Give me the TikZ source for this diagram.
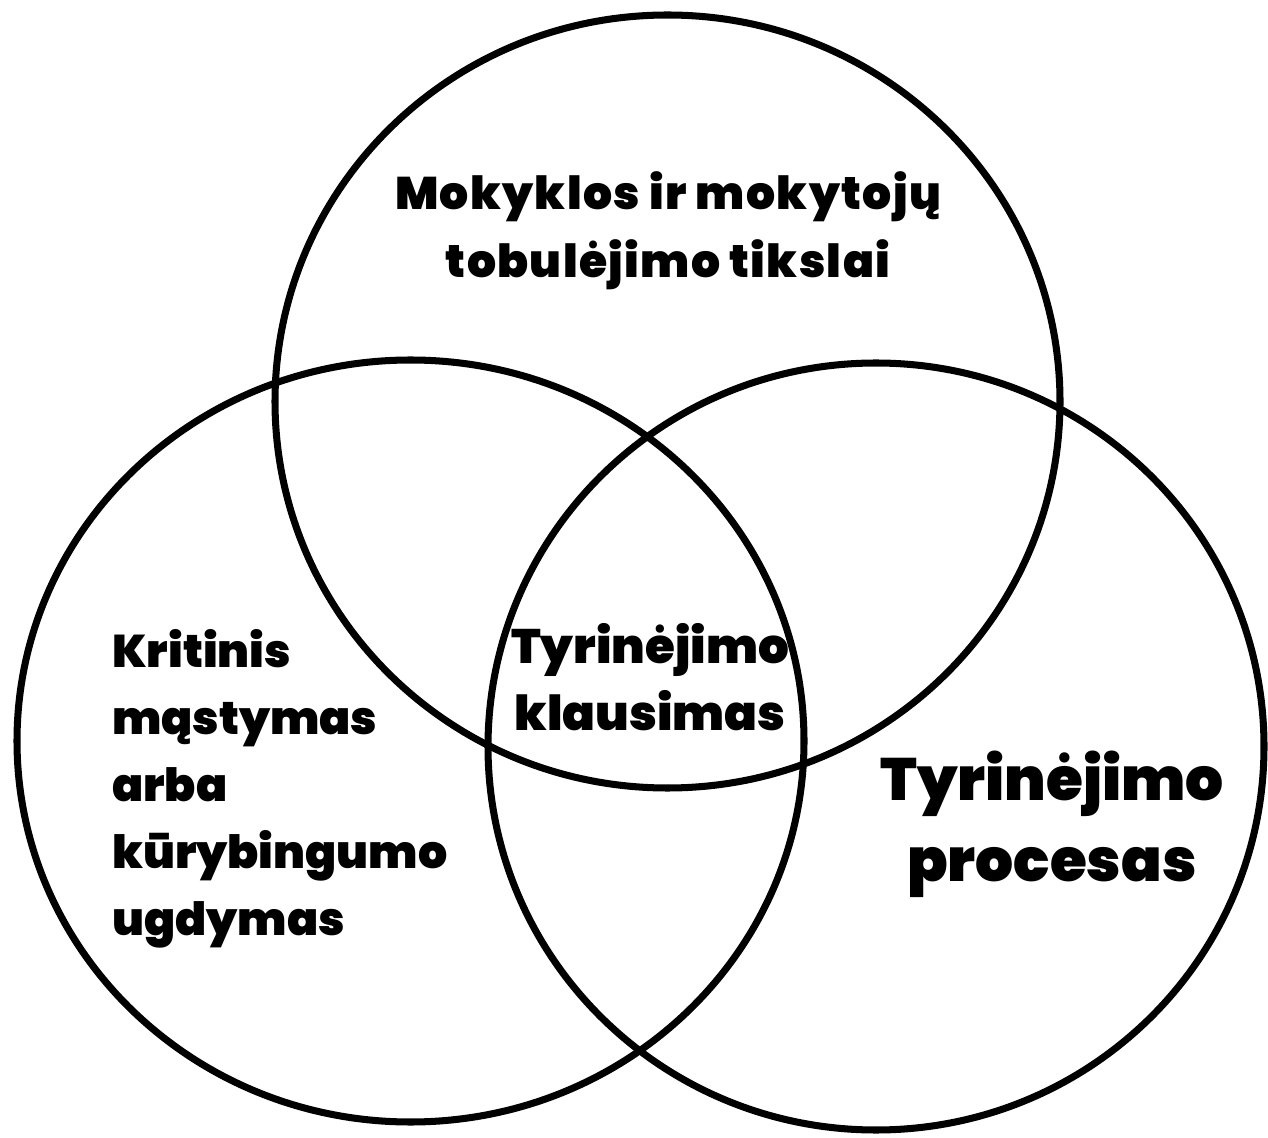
\documentclass[tikz,border=0pt]{standalone}
\usepackage{fontspec}
\setmainfont{Poppins}[UprightFont=* Black]
\newfontfamily\goalsfont{Poppins}[UprightFont=* Black,LetterSpace=3]
\usepackage{tikz}
\usetikzlibrary{positioning}

\begin{document}
\begin{tikzpicture}[x=0.02cm,y=0.02cm,
    setring/.style={line width=4pt},
    setlabel/.style={inner sep=0pt,anchor=base}]
        \useasboundingbox (0,0) rectangle (1268,1137);
        % the three sets
        \draw[setring] (667.5,735.5) ellipse [x radius=392.5, y radius=386.5];
        \draw[setring] (410.5,396) ellipse [x radius=393.5, y radius=381];
        \draw[setring] (876,390.5) ellipse [x radius=388, y radius=383.5];
        % labels (anchored at the baseline of the last line)
        \node[setlabel,align=center,font=\goalsfont\fontsize{26}{39}\selectfont] (goals) at (668,859)
          {Mokyklos ir mokytojų\\tobulėjimo tikslai};
        \node[setlabel,align=left,anchor=base west,font=\fontsize{26.1}{38}\selectfont] (critical) at (112,202)
          {Kritinis\\mąstymas\\arba\\kūrybingumo\\ugdymas};
        \node[setlabel,align=center,font=\fontsize{27.5}{38.6}\selectfont] (question) at (650,406)
          {Tyrinėjimo\\klausimas};
        \node[setlabel,align=center,font=\fontsize{34}{46}\selectfont] (process) at (1052,256)
          {Tyrinėjimo\\procesas};
      \end{tikzpicture}
\end{document}
